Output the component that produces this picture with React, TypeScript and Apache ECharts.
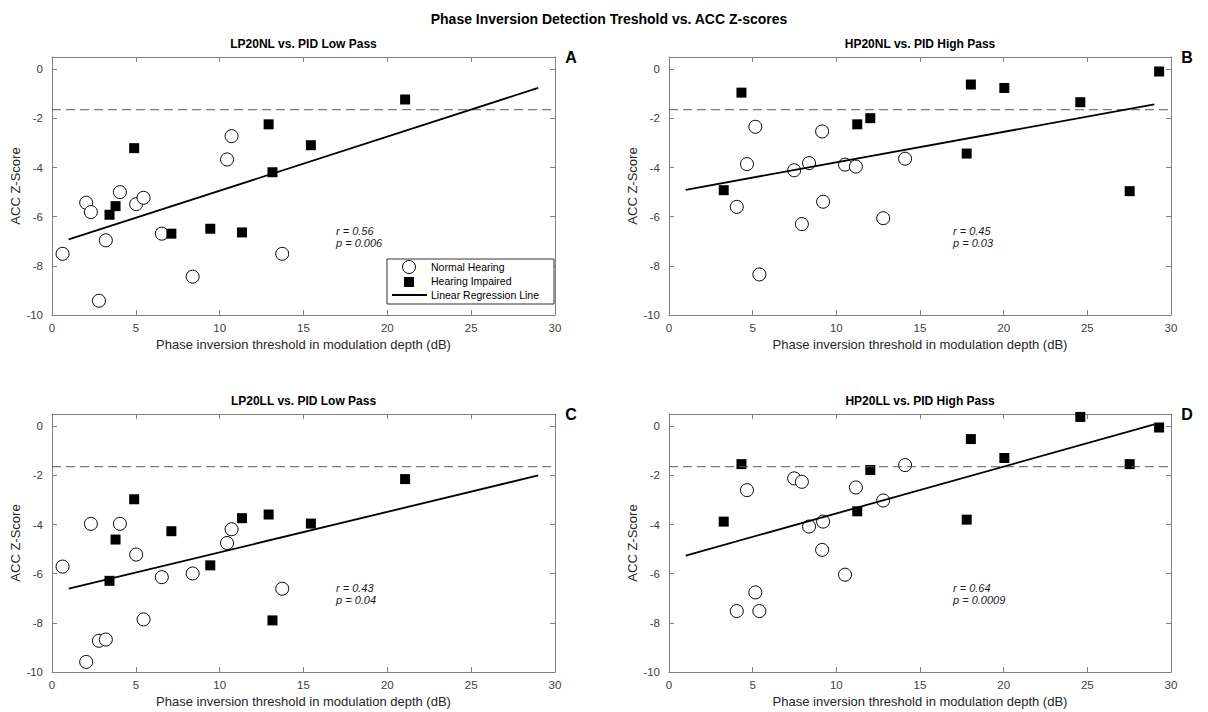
import React, { useEffect, useRef } from "react";
import * as echarts from "echarts";

// ---------- data ----------
// Phase inversion thresholds (dB) — low-pass and high-pass PID, per group
const LP_NH_X = [0.63, 2.04, 2.32, 2.8, 3.21, 4.05, 5.02, 5.46, 6.55, 8.39, 10.44, 10.71, 13.73];
const LP_HI_X = [3.43, 3.79, 4.9, 7.12, 9.44, 11.33, 12.92, 13.15, 15.44, 21.06];
const HP_NH_X = [4.05, 4.66, 5.16, 5.4, 7.48, 7.94, 8.37, 9.15, 9.21, 10.52, 11.17, 12.8, 14.11];
const HP_HI_X = [3.27, 4.33, 11.25, 12.03, 17.79, 18.04, 20.04, 24.58, 27.53, 29.29];

// ACC Z-scores
const A_NH_Y = [-7.51, -5.43, -5.81, -9.42, -6.96, -5.0, -5.49, -5.23, -6.69, -8.44, -3.67, -2.72, -7.51];
const A_HI_Y = [-5.92, -5.57, -3.21, -6.69, -6.49, -6.64, -2.24, -4.19, -3.09, -1.23];
const B_NH_Y = [-5.6, -3.86, -2.34, -8.35, -4.11, -6.3, -3.82, -2.53, -5.39, -3.88, -3.96, -6.06, -3.64];
const B_HI_Y = [-4.92, -0.95, -2.24, -1.99, -3.43, -0.62, -0.76, -1.34, -4.96, -0.09];
const C_NH_Y = [-5.71, -9.59, -3.97, -8.73, -8.68, -3.97, -5.22, -7.86, -6.14, -5.99, -4.75, -4.19, -6.61];
const C_HI_Y = [-6.29, -4.61, -2.97, -4.27, -5.66, -3.74, -3.59, -7.9, -3.96, -2.15];
const D_NH_Y = [-7.52, -2.6, -6.76, -7.52, -2.12, -2.26, -4.08, -5.03, -3.88, -6.04, -2.49, -3.02, -1.58];
const D_HI_Y = [-3.88, -1.54, -3.46, -1.78, -3.8, -0.52, -1.29, 0.38, -1.54, -0.05];

const PANEL_TITLES = ["LP20NL vs. PID Low Pass", "HP20NL vs. PID High Pass", "LP20LL vs. PID Low Pass", "HP20LL vs. PID High Pass"];
const PANEL_LETTERS = ["A", "B", "C", "D"];
const R_TEXT = ["r = 0.56", "r = 0.45", "r = 0.43", "r = 0.64"];
const P_TEXT = ["p = 0.006", "p = 0.03", "p = 0.04", "p = 0.0009"];

const CRITERION = -1.645;
const FIT_RANGE = [1, 29];
const X_TICKS = { min: 0, max: 30, interval: 5 };
const Y_TICKS = { min: -10, max: 0.5, interval: 2 };

const MAIN_TITLE = "Phase Inversion Detection Treshold vs. ACC Z-scores";
const X_NAME = "Phase inversion threshold in modulation depth (dB)";
const Y_NAME = "ACC Z-Score";
const LEGEND_NAMES = ["Normal Hearing", "Hearing Impaired", "Linear Regression Line"];

// ---------- helpers ----------
function fitLine(xs: number[], ys: number[]) {
  const n = xs.length;
  const mx = xs.reduce((s, v) => s + v, 0) / n;
  const my = ys.reduce((s, v) => s + v, 0) / n;
  let sxy = 0;
  let sxx = 0;
  for (let i = 0; i < n; i++) {
    sxy += (xs[i] - mx) * (ys[i] - my);
    sxx += (xs[i] - mx) * (xs[i] - mx);
  }
  const b = sxy / sxx;
  const a = my - b * mx;
  return FIT_RANGE.map((x) => [x, a + b * x]);
}

const zip = (xs: number[], ys: number[]) => xs.map((x, i) => [x, ys[i]]);

const FONT = "'Liberation Sans', Arial, Helvetica, sans-serif";
const AXIS_COLOR = "#808080";
const LABEL_COLOR = "#404040";

const GRIDS = [
  { left: 52, top: 57, width: 503, height: 258 },
  { left: 669, top: 57, width: 502, height: 258 },
  { left: 52, top: 414, width: 503, height: 258 },
  { left: 669, top: 414, width: 502, height: 258 },
];

export default function App() {
  const ref = useRef<HTMLDivElement>(null);

  useEffect(() => {
    if (!ref.current) return;
    const chart = echarts.init(ref.current, undefined, { renderer: "svg" });

    const panels = [
      { nhX: LP_NH_X, nhY: A_NH_Y, hiX: LP_HI_X, hiY: A_HI_Y },
      { nhX: HP_NH_X, nhY: B_NH_Y, hiX: HP_HI_X, hiY: B_HI_Y },
      { nhX: LP_NH_X, nhY: C_NH_Y, hiX: LP_HI_X, hiY: C_HI_Y },
      { nhX: HP_NH_X, nhY: D_NH_Y, hiX: HP_HI_X, hiY: D_HI_Y },
    ];

    const xAxes: any[] = [];
    const yAxes: any[] = [];
    const series: any[] = [];
    const graphics: any[] = [];

    const tickStyle = { inside: true, length: 5, lineStyle: { color: AXIS_COLOR, width: 1 } };
    const lineStyle = { color: AXIS_COLOR, width: 1 };

    panels.forEach((p, g) => {
      xAxes.push({
        type: "value",
        gridIndex: g,
        position: "bottom",
        ...X_TICKS,
        axisLine: { show: true, onZero: false, lineStyle },
        axisTick: tickStyle,
        axisLabel: { color: LABEL_COLOR, fontSize: 11.5, margin: 7, fontFamily: FONT },
        splitLine: { show: false },
        name: X_NAME,
        nameLocation: "middle",
        nameGap: 23,
        nameTextStyle: { fontSize: 13, color: "#262626", fontFamily: FONT },
      });
      xAxes.push({
        type: "value",
        gridIndex: g,
        position: "top",
        ...X_TICKS,
        axisLine: { show: true, onZero: false, lineStyle },
        axisTick: tickStyle,
        axisLabel: { show: false },
        splitLine: { show: false },
      });
      yAxes.push({
        type: "value",
        gridIndex: g,
        position: "left",
        ...Y_TICKS,
        axisLine: { show: true, onZero: false, lineStyle },
        axisTick: tickStyle,
        axisLabel: {
          color: LABEL_COLOR,
          fontSize: 11.5,
          margin: 9,
          fontFamily: FONT,
          formatter: (v: number) => (Math.abs(v % 2) < 1e-9 ? String(Math.round(v)) : ""),
        },
        splitLine: { show: false },
        name: Y_NAME,
        nameLocation: "middle",
        nameGap: 27,
        nameTextStyle: { fontSize: 13, color: "#262626", fontFamily: FONT },
      });
      yAxes.push({
        type: "value",
        gridIndex: g,
        position: "right",
        ...Y_TICKS,
        axisLine: { show: true, onZero: false, lineStyle },
        axisTick: tickStyle,
        axisLabel: { show: false },
        splitLine: { show: false },
      });

      const xi = 2 * g;
      const yi = 2 * g;
      series.push({
        type: "line",
        xAxisIndex: xi,
        yAxisIndex: yi,
        data: [
          [X_TICKS.min, CRITERION],
          [X_TICKS.max, CRITERION],
        ],
        symbol: "none",
        silent: true,
        lineStyle: { color: "#5a5a5a", width: 1, type: [9, 5] },
      });
      series.push({
        type: "line",
        name: LEGEND_NAMES[2],
        xAxisIndex: xi,
        yAxisIndex: yi,
        data: fitLine([...p.nhX, ...p.hiX], [...p.nhY, ...p.hiY]),
        symbol: "none",
        lineStyle: { color: "#000", width: 1.8 },
      });
      series.push({
        type: "scatter",
        name: LEGEND_NAMES[0],
        xAxisIndex: xi,
        yAxisIndex: yi,
        data: zip(p.nhX, p.nhY),
        symbol: "circle",
        symbolSize: 13,
        itemStyle: { color: "#fff", borderColor: "#000", borderWidth: 1, opacity: 1 },
      });
      series.push({
        type: "scatter",
        name: LEGEND_NAMES[1],
        xAxisIndex: xi,
        yAxisIndex: yi,
        data: zip(p.hiX, p.hiY),
        symbol: "rect",
        symbolSize: 10,
        itemStyle: { color: "#000", opacity: 1 },
      });

      const gr = GRIDS[g];
      // panel letter
      graphics.push({
        type: "text",
        x: gr.left + gr.width + 16,
        y: gr.top,
        style: {
          text: PANEL_LETTERS[g],
          fontSize: 16,
          fontWeight: "bold",
          fontFamily: FONT,
          fill: "#000",
          align: "center",
          verticalAlign: "middle",
        },
      });
      // statistics
      const sx = gr.left + 284;
      const sy = gr.top + 174;
      graphics.push({
        type: "text",
        x: sx,
        y: sy,
        style: { text: R_TEXT[g], fontSize: 11, fontStyle: "italic", fontFamily: FONT, fill: "#1a1a1a", verticalAlign: "middle" },
      });
      graphics.push({
        type: "text",
        x: sx,
        y: sy + 11.5,
        style: { text: P_TEXT[g], fontSize: 11, fontStyle: "italic", fontFamily: FONT, fill: "#1a1a1a", verticalAlign: "middle" },
      });
    });

    // legend (panel A)
    const lx = 387;
    const ly = 259;
    graphics.push({
      type: "rect",
      shape: { x: lx, y: ly, width: 167, height: 45 },
      style: { fill: "#fff", stroke: "#333", lineWidth: 1 },
      z: 10,
    });
    graphics.push({
      type: "circle",
      shape: { cx: lx + 22, cy: ly + 8, r: 6.5 },
      style: { fill: "#fff", stroke: "#000", lineWidth: 1 },
      z: 11,
    });
    graphics.push({
      type: "rect",
      shape: { x: lx + 17, y: ly + 18, width: 10, height: 10 },
      style: { fill: "#000" },
      z: 11,
    });
    graphics.push({
      type: "line",
      shape: { x1: lx + 5, y1: ly + 36, x2: lx + 40, y2: ly + 36 },
      style: { stroke: "#000", lineWidth: 1.8 },
      z: 11,
    });
    LEGEND_NAMES.forEach((name, i) => {
      graphics.push({
        type: "text",
        x: lx + 44,
        y: ly + 8 + i * 14,
        z: 11,
        style: { text: name, fontSize: 10.5, fontFamily: FONT, fill: "#000", verticalAlign: "middle" },
      });
    });

    const titles: any[] = [
      {
        text: MAIN_TITLE,
        left: 604,
        top: 7,
        textAlign: "center",
        textStyle: { fontSize: 14, fontWeight: "bold", fontFamily: FONT, color: "#000" },
      },
    ];
    GRIDS.forEach((gr, g) => {
      titles.push({
        text: PANEL_TITLES[g],
        left: gr.left + gr.width / 2,
        top: gr.top - 19,
        textAlign: "center",
        padding: 0,
        textStyle: { fontSize: 12, fontWeight: "bold", fontFamily: FONT, color: "#000" },
      });
    });

    chart.setOption({
      animation: false,
      backgroundColor: "#fff",
      textStyle: { fontFamily: FONT },
      title: titles,
      grid: GRIDS.map((gr) => ({ ...gr, containLabel: false })),
      xAxis: xAxes,
      yAxis: yAxes,
      series,
      graphic: { elements: graphics },
    });

    return () => chart.dispose();
  }, []);

  return (
    <div
      ref={ref}
      style={{ position: "absolute", left: 0, top: 0, width: 1208, height: 712 }}
    />
  );
}
